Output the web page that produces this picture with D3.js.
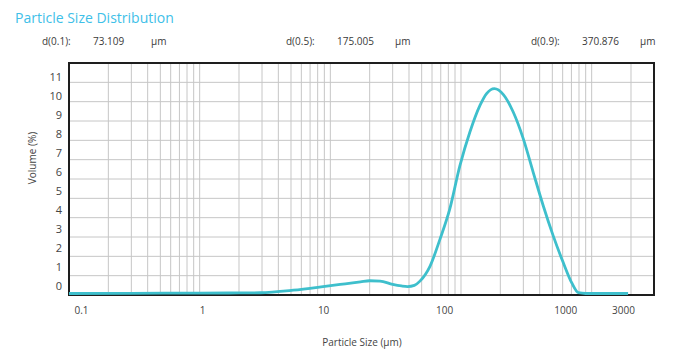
<!DOCTYPE html>
<html>
<head>
<meta charset="utf-8">
<script src="https://cdn.jsdelivr.net/npm/d3@7"></script>
<style>
	body { margin: 0; background: #fff; }
	text { font-family: "Open Sans", "Noto Sans", sans-serif; }
</style>
</head>
<body>
<div id="container"></div>
<script>
// chart data
var sizes = [0.1, 0.3, 1, 2, 2.9, 5.2, 9.4, 13, 17, 20, 24, 30, 35, 39, 44, 48.5, 58, 69, 82, 98, 117, 140, 157, 180, 211, 251, 300, 357, 426, 508, 606, 703, 790, 900, 1900];
var volumes = [0, 0.01, 0.02, 0.03, 0.04, 0.17, 0.38, 0.5, 0.6, 0.66, 0.64, 0.47, 0.39, 0.36, 0.42, 0.64, 1.42, 2.8, 4.36, 6.6, 8.35, 9.74, 10.34, 10.6, 10.29, 9.39, 8.0, 6.27, 4.54, 2.98, 1.6, 0.56, 0.04, 0, 0];

var xTicks = [0.1, 1, 10, 100, 1000, 3000];
var yTicks = [0, 1, 2, 3, 4, 5, 6, 7, 8, 9, 10, 11];
var stats = [
	{label: "d(0.1):", value: "73.109", unit: "µm"},
	{label: "d(0.5):", value: "175.005", unit: "µm"},
	{label: "d(0.9):", value: "370.876", unit: "µm"}
];

var width = 674, height = 360;
var box = {left: 69, right: 654, top: 63, bottom: 295};

var svg = d3.select("#container").append("svg")
	.attr("width", width)
	.attr("height", height);

// plot scales (grid + curve)
var x = d3.scaleLog().domain([0.1, 3000]).range([box.left, box.right]);
var y = d3.scaleLinear().domain([0, 12]).range([box.bottom, box.top]);
// tick labels sit on a slightly inset scale in the original
var xLab = d3.scaleLog().domain([0.1, 3000]).range([81, 623]);
var yLab = d3.scaleLinear().domain([0, 11]).range([286, 77]);

// grid values: 1..9 multiples of each decade inside the box
var gridX = [];
[0.1, 1, 10, 100, 1000].forEach(function(dec){
	d3.range(1, 10).forEach(function(m){
		var v = +(dec*m).toPrecision(3);
		if (v > 0.1 && v < 3000) gridX.push(v);
	});
});

svg.append("g")
	.attr("class", "grid")
	.selectAll("line").data(gridX).enter()
	.append("line")
	.attr("x1", function(d){ return x(d); })
	.attr("x2", function(d){ return x(d); })
	.attr("y1", box.top)
	.attr("y2", box.bottom)
	.attr("stroke", "#c6c6c6")
	.attr("stroke-width", 1);

svg.append("g")
	.attr("class", "grid")
	.selectAll("line").data(yTicks.slice(1)).enter()
	.append("line")
	.attr("x1", box.left)
	.attr("x2", box.right)
	.attr("y1", function(d){ return y(d); })
	.attr("y2", function(d){ return y(d); })
	.attr("stroke", "#c6c6c6")
	.attr("stroke-width", 1);

svg.append("rect")
	.attr("x", box.left)
	.attr("y", box.top)
	.attr("width", box.right - box.left)
	.attr("height", box.bottom - box.top)
	.attr("fill", "none")
	.attr("stroke", "#1e1e1e")
	.attr("stroke-width", 2);

var data = sizes.map(function(s, i){ return {x: s, y: volumes[i]}; });

var line = d3.line()
	.x(function(d){ return x(d.x); })
	.y(function(d){ return y(d.y); })
	.curve(d3.curveMonotoneX);

svg.append("path")
	.attr("d", line(data))
	.attr("transform", "translate(0,-1.5)")
	.attr("fill", "none")
	.attr("stroke", "#3ebfcc")
	.attr("stroke-width", 2.8)
	.attr("stroke-linejoin", "round");

// axes (labels only)
var xAxis = svg.append("g")
	.attr("transform", "translate(0,300)")
	.call(d3.axisBottom(xLab).tickValues(xTicks).tickFormat(function(d){ return d; }).tickSize(0).tickPadding(7));
xAxis.select(".domain").remove();
xAxis.selectAll("text")
	.style("font-family", "'Open Sans', sans-serif")
	.style("font-size", "10px")
	.attr("fill", "#444");

var yAxis = svg.append("g")
	.attr("transform", "translate(" + box.left + ",0)")
	.call(d3.axisLeft(yLab).tickValues(yTicks).tickSize(0).tickPadding(7));
yAxis.select(".domain").remove();
yAxis.selectAll("text")
	.style("font-family", "'Open Sans', sans-serif")
	.style("font-size", "11px")
	.attr("fill", "#444");

svg.append("text")
	.attr("x", 362)
	.attr("y", 346)
	.attr("text-anchor", "middle")
	.style("font-size", "10px")
	.attr("fill", "#444")
	.text("Particle Size (µm)");

svg.append("text")
	.attr("transform", "translate(36,158) rotate(-90)")
	.attr("text-anchor", "middle")
	.style("font-size", "10px")
	.attr("fill", "#444")
	.text("Volume (%)");

// title + stats
svg.append("text")
	.attr("x", 15)
	.attr("y", 23)
	.style("font-size", "14px")
	.attr("fill", "#3ec0e8")
	.text("Particle Size Distribution");

var statX = [42, 286, 531];
var statG = svg.selectAll(".stat").data(stats).enter()
	.append("g")
	.attr("class", "stat")
	.attr("transform", function(d, i){ return "translate(" + statX[i] + ",45)"; });
statG.append("text").attr("x", 0).text(function(d){ return d.label; });
statG.append("text").attr("x", 51).text(function(d){ return d.value; });
statG.append("text").attr("x", 109).text(function(d){ return d.unit; });
statG.selectAll("text")
	.style("font-size", "10px")
	.attr("fill", "#3a3a3a");
</script>
</body>
</html>
